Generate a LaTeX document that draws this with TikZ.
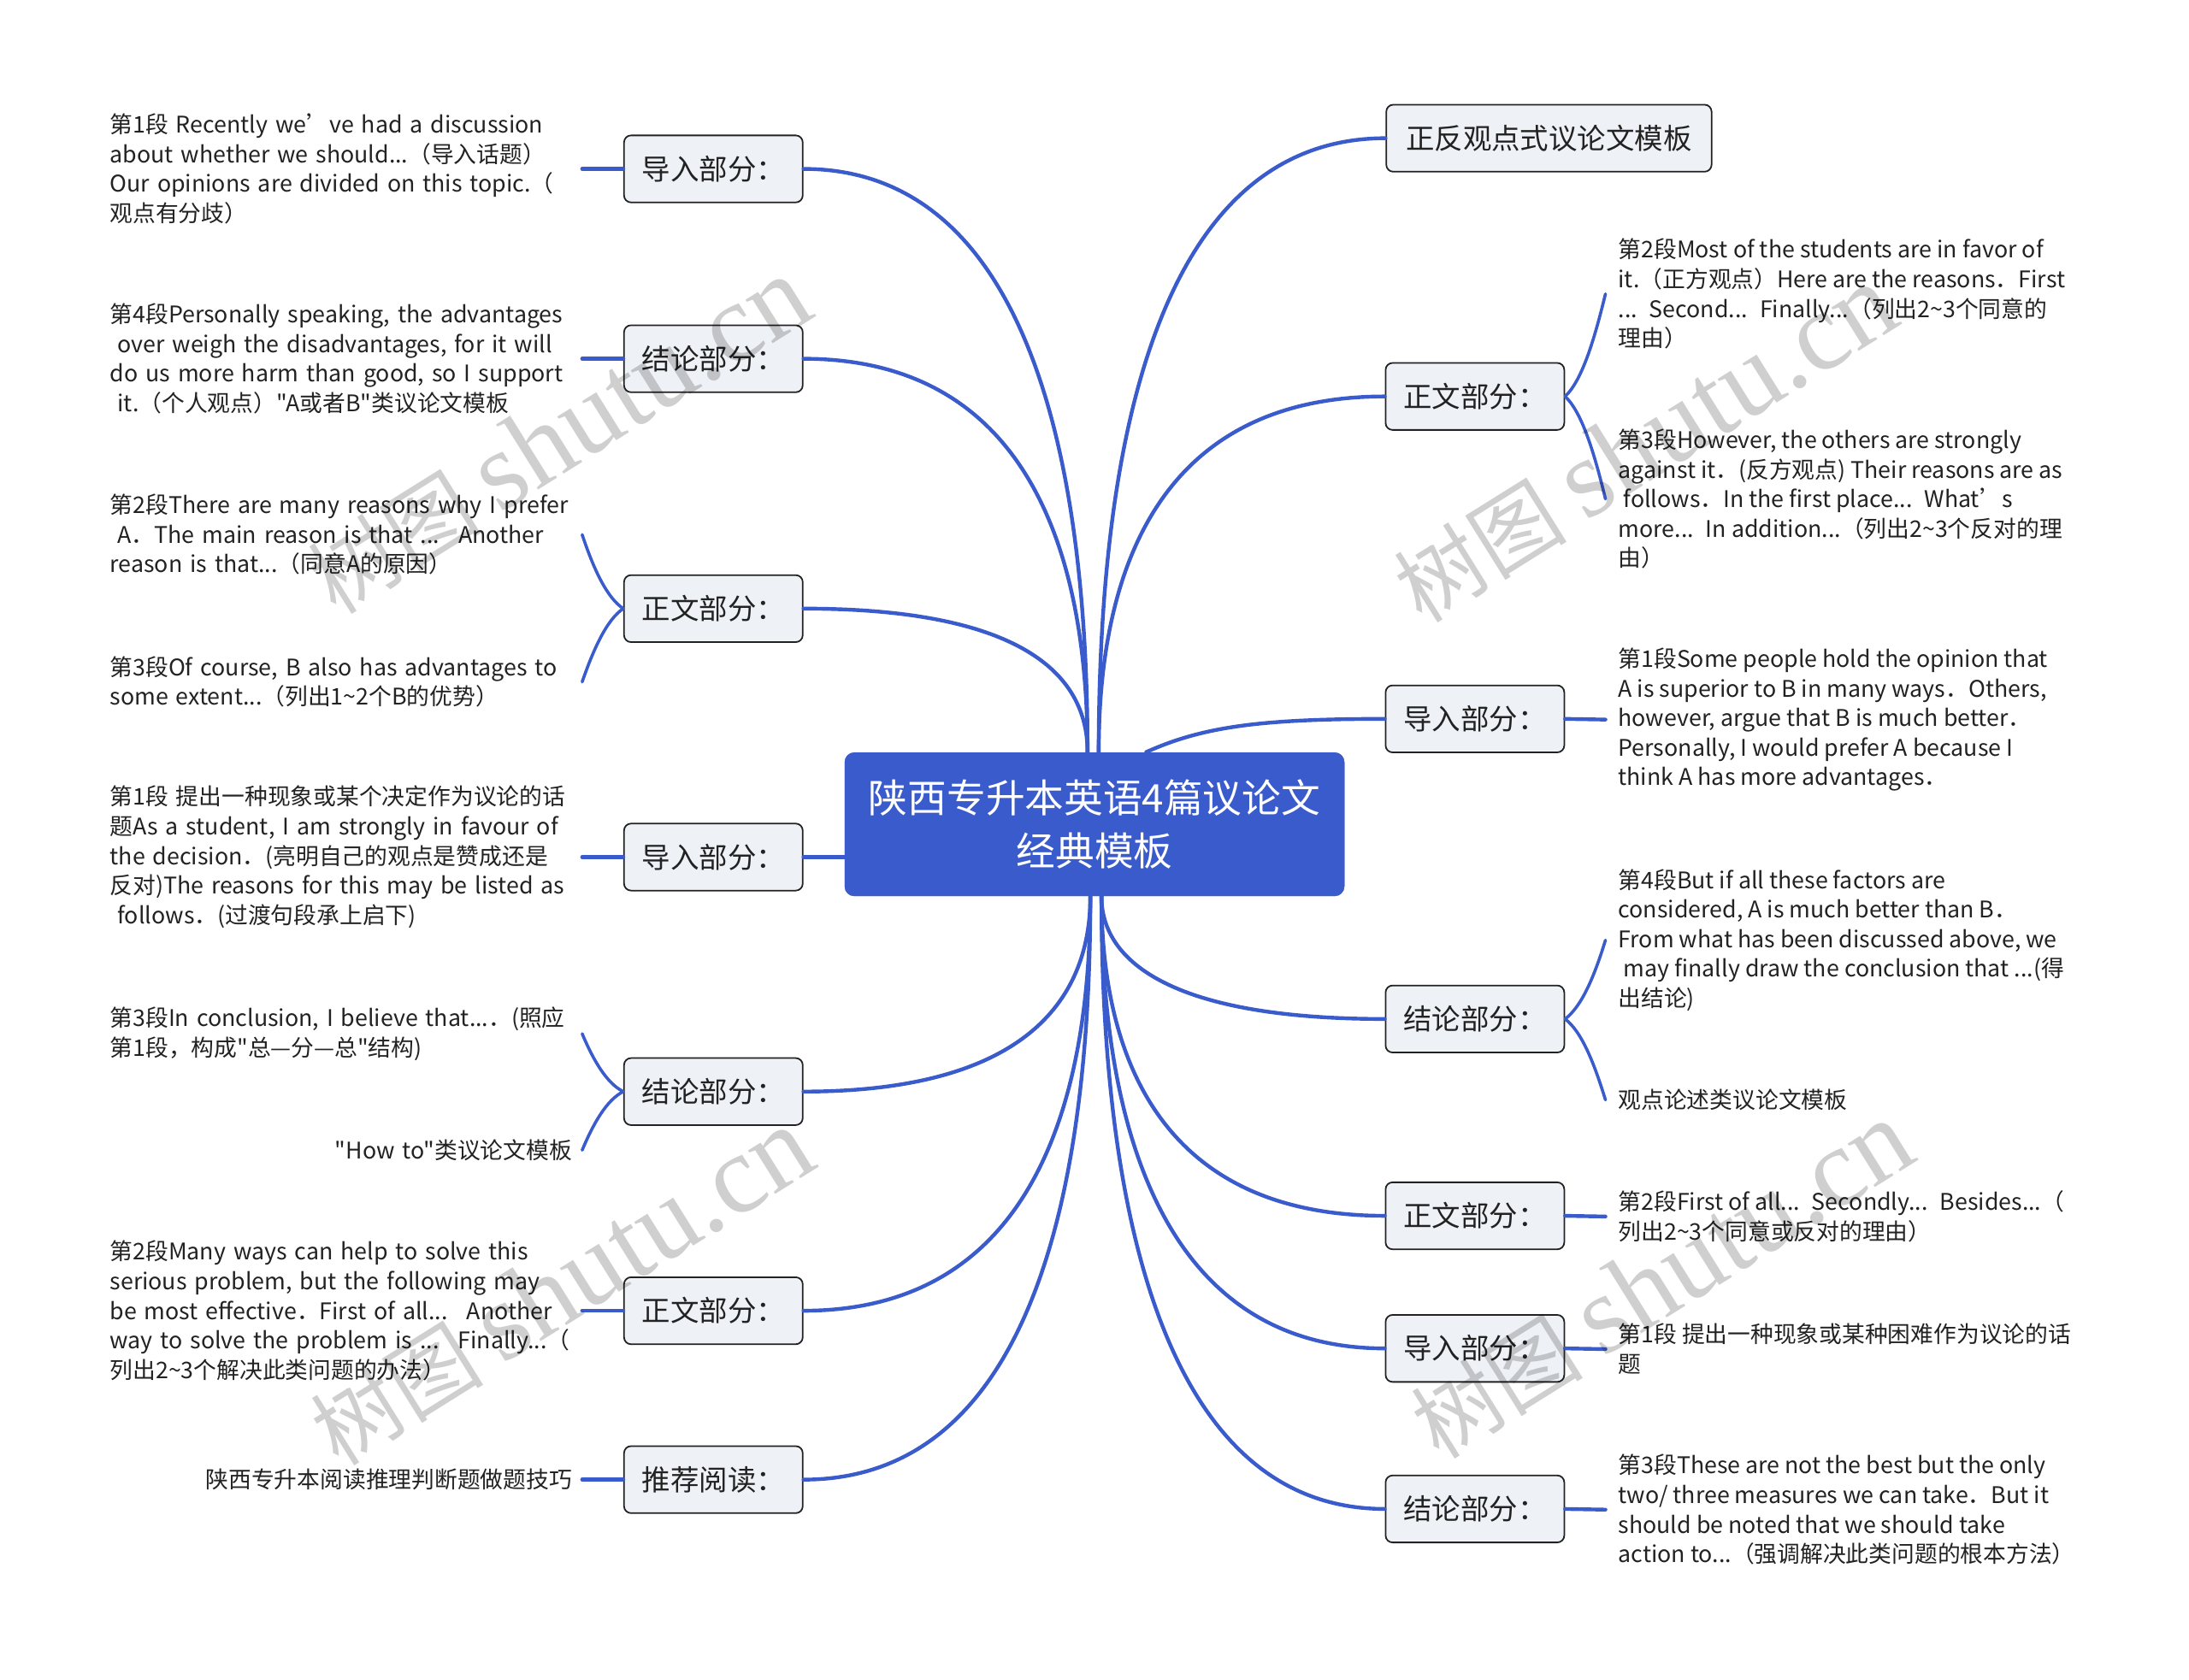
\documentclass[tikz,border=0pt]{standalone}
\usepackage{fontspec}
\setmainfont{Noto Sans CJK SC}[Ligatures=TeXOff]
\newfontfamily\wmlatin{Liberation Serif}
\usetikzlibrary{calc}
\definecolor{mblue}{HTML}{3A5BCB}
\definecolor{boxfill}{HTML}{EEF1F5}
\definecolor{boxdraw}{HTML}{222222}
\definecolor{txt}{HTML}{222222}
\newcommand{\tilda}{{\char"7E}}
\newcommand{\dq}{{\char"22}}
\begin{document}
\begin{tikzpicture}[x=1pt,y=1pt,
  conn/.style={draw=mblue, line width=2.7pt, line cap=round},
  subconn/.style={draw=mblue, line width=2.2pt, line cap=round},
  branch/.style={draw=boxdraw, fill=boxfill, rounded corners=5pt, line width=1.1pt,
    minimum width=128pt, minimum height=48pt, inner sep=0pt,
    font=\fontsize{20.5}{24}\selectfont, text=txt},
  root/.style={fill=mblue, rounded corners=7pt, minimum width=358pt, minimum height=103pt,
    inner sep=0pt, align=center, text=white, font=\fontsize{28}{38}\selectfont},
  leafL/.style={anchor=east, text width=331pt, align=left, inner xsep=7pt, inner ysep=0pt,
    font=\fontsize{16.4}{21.2}\selectfont, text=txt},
  leafLR/.style={leafL, align=right},
  leafR/.style={anchor=west, align=left, inner xsep=9pt, inner ysep=0pt,
    font=\fontsize{16.4}{21.2}\selectfont, text=txt},
  wm/.style={rotate=32, text=black, opacity=0.19, inner sep=0pt}
]
\useasboundingbox (0,0) rectangle (1568,-1203);

% root
\node[root] (C) at (784,-590.5) {陕西专升本英语4篇议论文\\经典模板};
\coordinate (tl) at ($(C.north)+(-5,0)$);
\coordinate (tr) at ($(C.north)+(3,0)$);
\coordinate (t3) at ($(C.north)+(37,0)$);
\coordinate (bl) at ($(C.south)+(-3,0)$);
\coordinate (br) at ($(C.south)+(5,0)$);

% branch boxes
\node[branch] (L1) at (511,-121) {导入部分：};
\node[branch] (L2) at (511,-257) {结论部分：};
\node[branch] (L3) at (511,-436) {正文部分：};
\node[branch] (L4) at (511,-614) {导入部分：};
\node[branch] (L5) at (511,-782) {结论部分：};
\node[branch] (L6) at (511,-939) {正文部分：};
\node[branch] (L7) at (511,-1060) {推荐阅读：};

\node[branch, minimum width=233pt] (R1) at (1109.5,-99) {正反观点式议论文模板};
\node[branch] (R2) at (1056.5,-284) {正文部分：};
\node[branch] (R3) at (1056.5,-515) {导入部分：};
\node[branch] (R4) at (1056.5,-730) {结论部分：};
\node[branch] (R5) at (1056.5,-871) {正文部分：};
\node[branch] (R6) at (1056.5,-966) {导入部分：};
\node[branch] (R7) at (1056.5,-1081) {结论部分：};

% leaves left
\node[leafL] (l1) at (417,-121) {第1段 Recently we’ve had a discussion\\about whether we should...（导入话题）\\Our opinions are divided on this topic.（\\观点有分歧）};
\node[leafL] (l2) at (417,-257) {第4段Personally speaking, the advantages\\~over weigh the disadvantages, for it will\\do us more harm than good, so I support\\~it.（个人观点）\dq A或者B\dq 类议论文模板};
\node[leafL] (l3a) at (417,-383) {第2段There are many reasons why I prefer\\~A．The main reason is that ...~ Another\\reason is that...（同意A的原因）};
\node[leafL] (l3b) at (417,-488.5) {第3段Of course, B also has advantages to\\some extent...（列出1\tilda 2个B的优势）};
\node[leafL] (l4) at (417,-614) {第1段 提出一种现象或某个决定作为议论的话\\题As a student, I am strongly in favour of\\the decision．(亮明自己的观点是赞成还是\\反对)The reasons for this may be listed as\\~follows．(过渡句段承上启下)};
\node[leafL] (l5a) at (417,-740.5) {第3段In conclusion, I believe that...．(照应\\第1段，构成\dq 总—分—总\dq 结构)};
\node[leafLR] (l5b) at (417,-824) {\dq How to\dq 类议论文模板};
\node[leafL] (l6) at (417,-939) {第2段Many ways can help to solve this\\serious problem, but the following may\\be most effective．First of all...~ Another\\way to solve the problem is ...~ Finally...（\\列出2\tilda 3个解决此类问题的办法）};
\node[leafLR] (l7) at (417,-1060) {陕西专升本阅读推理判断题做题技巧};

% leaves right
\node[leafR] (r2a) at (1150,-210.5) {第2段Most of the students are in favor of\\it.（正方观点）Here are the reasons．First\\...~ Second...~ Finally...（列出2\tilda 3个同意的\\理由）};
\node[leafR] (r2b) at (1150,-357.5) {第3段However, the others are strongly\\against it．(反方观点) Their reasons are as\\~follows．In the first place...~ What’s\\more...~ In addition...（列出2\tilda 3个反对的理\\由）};
\node[leafR] (r3) at (1150,-515.5) {第1段Some people hold the opinion that\\A is superior to B in many ways．Others,\\however, argue that B is much better．\\Personally, I would prefer A because I\\think A has more advantages．};
\node[leafR] (r4a) at (1150,-673.5) {第4段But if all these factors are\\considered, A is much better than B．\\From what has been discussed above, we\\~may finally draw the conclusion that ...(得\\出结论)};
\node[leafR] (r4b) at (1150,-788) {观点论述类议论文模板};
\node[leafR] (r5) at (1150,-871.5) {第2段First of all...~ Secondly...~ Besides...（\\列出2\tilda 3个同意或反对的理由）};
\node[leafR] (r6) at (1150,-966.5) {第1段 提出一种现象或某种困难作为议论的话\\题};
\node[leafR] (r7) at (1150,-1081.5) {第3段These are not the best but the only\\two/ three measures we can take．But it\\should be noted that we should take\\action to...（强调解决此类问题的根本方法）};

% main connectors
\draw[conn] (tl) .. controls +(0,230) and +(152,0) .. (L1.east);
\draw[conn] (tl) .. controls +(0,155) and +(153,0) .. (L2.east);
\draw[conn] (tl) .. controls +(0,57) and +(154,0) .. (L3.east);
\draw[conn] (L4.east) -- (L4.east -| C.west);
\draw[conn] (bl) .. controls +(0,-77) and +(155,0) .. (L5.east);
\draw[conn] (bl) .. controls +(0,-163) and +(155,0) .. (L6.east);
\draw[conn] (bl) .. controls +(0,-230) and +(155,0) .. (L7.east);
\draw[conn] (tr) .. controls +(0,242) and +(-155,0) .. (R1.west);
\draw[conn] (tr) .. controls +(0,140) and +(-155,0) .. (R2.west);
\draw[conn] (t3) .. controls +(40,18) and +(-90,0) .. (R3.west);
\draw[conn] (br) .. controls +(0,-48) and +(-150,0) .. (R4.west);
\draw[conn] (br) .. controls +(0,-126) and +(-152,0) .. (R5.west);
\draw[conn] (br) .. controls +(0,-178) and +(-152,0) .. (R6.west);
\draw[conn] (br) .. controls +(0,-241) and +(-152,0) .. (R7.west);

% sub connectors
\draw[conn] (L1.west) -- (l1.east);
\draw[conn] (L2.west) -- (l2.east);
\draw[subconn] (L3.west) .. controls +(-12,8) and +(8,-24) .. (l3a.east);
\draw[subconn] (L3.west) .. controls +(-12,-8) and +(8,23) .. (l3b.east);
\draw[conn] (L4.west) -- (l4.east);
\draw[subconn] (L5.west) .. controls +(-12,6) and +(8,-19) .. (l5a.east);
\draw[subconn] (L5.west) .. controls +(-12,-6) and +(8,19) .. (l5b.east);
\draw[conn] (L6.west) -- (l6.east);
\draw[conn] (L7.west) -- (l7.east);
\draw[subconn] (R2.east) .. controls +(12,11) and +(-8,-33) .. (r2a.west);
\draw[subconn] (R2.east) .. controls +(12,-11) and +(-8,33) .. (r2b.west);
\draw[conn] (R3.east) -- (r3.west);
\draw[subconn] (R4.east) .. controls +(12,9) and +(-8,-26) .. (r4a.west);
\draw[subconn] (R4.east) .. controls +(12,-9) and +(-8,26) .. (r4b.west);
\draw[conn] (R5.east) -- (r5.west);
\draw[conn] (R6.east) -- (r6.west);
\draw[conn] (R7.east) -- (r7.west);

% redraw root on top of connector ends
\node[root] (C2) at (C) {陕西专升本英语4篇议论文\\经典模板};

% watermarks
\node[wm] (w1) at (400,-312) {\fontsize{62}{62}\selectfont 树图 {\wmlatin\fontsize{80}{80}\selectfont shutu.cn}};
\node[wm] (w2) at (1178,-318) {\fontsize{62}{62}\selectfont 树图 {\wmlatin\fontsize{80}{80}\selectfont shutu.cn}};
\node[wm] (w3) at (402,-922) {\fontsize{62}{62}\selectfont 树图 {\wmlatin\fontsize{80}{80}\selectfont shutu.cn}};
\node[wm] (w4) at (1190,-917) {\fontsize{62}{62}\selectfont 树图 {\wmlatin\fontsize{80}{80}\selectfont shutu.cn}};
\end{tikzpicture}
\end{document}
